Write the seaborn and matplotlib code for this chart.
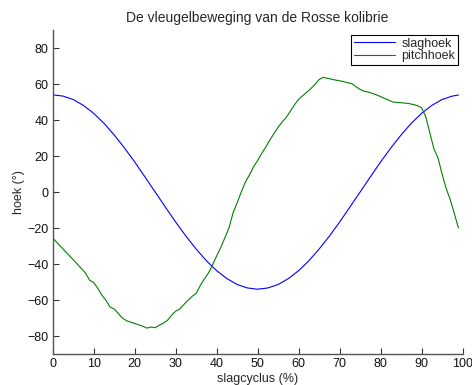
import matplotlib
matplotlib.use("Agg")
import matplotlib.pyplot as plt
import seaborn as sns
import pandas as pd

# Data
slag_x = [0, 2.5, 5, 7.5, 10, 12.5, 15, 17.5, 20, 22.5, 25, 27.5, 30, 32.5, 35, 37.5,
          40, 42.5, 45, 47.5, 50, 52.5, 55, 57.5, 60, 62.5, 65, 67.5, 70, 72.5, 75,
          77.5, 80, 82.5, 85, 87.5, 90, 92.5, 95, 97.5, 99]
slag_y = [54.0, 53.3, 51.4, 48.1, 43.7, 38.2, 31.7, 24.5, 16.7, 8.4, 0.0, -8.4, -16.7,
          -24.5, -31.7, -38.2, -43.7, -48.1, -51.4, -53.3, -54.0, -53.3, -51.4, -48.1,
          -43.7, -38.2, -31.7, -24.5, -16.7, -8.4, 0.0, 8.4, 16.7, 24.5, 31.7, 38.2,
          43.7, 48.1, 51.4, 53.3, 53.9]

pitch_x = list(range(0, 100))
pitch_y = [-25.5, -28.0, -30.4, -32.8, -35.2, -37.6, -40.1, -42.5, -45.0, -49.0,
           -50.3, -53.5, -57.3, -60.2, -63.9, -65.0, -67.5, -70.0, -71.5, -72.3,
           -73.0, -73.8, -74.6, -75.6, -75.0, -75.4, -74.0, -72.8, -71.3, -68.5,
           -66.2, -65.0, -62.5, -60.2, -58.0, -56.3, -52.0, -48.3, -45.0, -40.5,
           -35.5, -30.8, -25.5, -20.0, -11.5, -6.0, 0.0, 5.5, 9.5, 14.0,
           17.5, 21.5, 25.0, 29.0, 32.5, 36.0, 39.0, 41.5, 45.0, 48.5,
           51.5, 53.5, 55.5, 57.5, 59.8, 62.5, 63.7, 63.2, 62.7, 62.2,
           61.8, 61.3, 60.7, 60.2, 58.5, 57.0, 56.0, 55.5, 54.8, 54.0,
           53.0, 52.0, 51.0, 50.0, 49.8, 49.6, 49.4, 49.1, 48.6, 48.0,
           46.8, 42.0, 33.0, 24.0, 19.0, 10.0, 2.0, -4.3, -12.0, -20.0]

series_names = ["slaghoek", "pitchhoek"]
xticks = list(range(0, 101, 10))
yticks = list(range(-80, 81, 20))

sns.set_style("ticks")
plt.rcParams['font.family'] = ['Liberation Sans', 'DejaVu Sans']

fig = plt.figure(figsize=(4.72, 3.85), dpi=100)
ax = fig.add_axes([0.1117, 0.0805, 0.8683, 0.8415])

df1 = pd.DataFrame({"x": slag_x, "y": slag_y})
df2 = pd.DataFrame({"x": pitch_x, "y": pitch_y})
sns.lineplot(data=df1, x="x", y="y", ax=ax, color=(0, 0, 1), linewidth=0.8,
             label=series_names[0])
sns.lineplot(data=df2, x="x", y="y", ax=ax, color=(0, 0.5, 0), linewidth=0.8,
             label=series_names[1])

ax.set_xlim(0, 100)
ax.set_ylim(-90, 90)
ax.set_xticks(xticks)
ax.set_yticks(yticks)
ax.set_yticklabels([str(t).replace('-', '\u2212') for t in yticks])
ax.tick_params(direction='in', length=4, width=0.8, labelsize=9, colors='#333333',
               labelcolor='#111111', pad=3)
for s in ['top', 'right']:
    ax.spines[s].set_visible(False)
for s in ['left', 'bottom']:
    ax.spines[s].set_color('#555555')
    ax.spines[s].set_linewidth(1.0)

ax.set_xlabel("slagcyclus (%)", fontsize=9, labelpad=2)
ax.set_ylabel("hoek (°)", fontsize=9, labelpad=2)
ax.set_title("De vleugelbeweging van de Rosse kolibrie", fontsize=10, pad=6)

leg = ax.legend(loc='upper right', fontsize=9, frameon=True, fancybox=False,
                edgecolor='black', framealpha=1, borderpad=0.2, labelspacing=0.05,
                handlelength=3.3, handletextpad=0.5, borderaxespad=0.4)
leg.get_frame().set_linewidth(0.8)

fig.savefig("out.png", dpi=100)
